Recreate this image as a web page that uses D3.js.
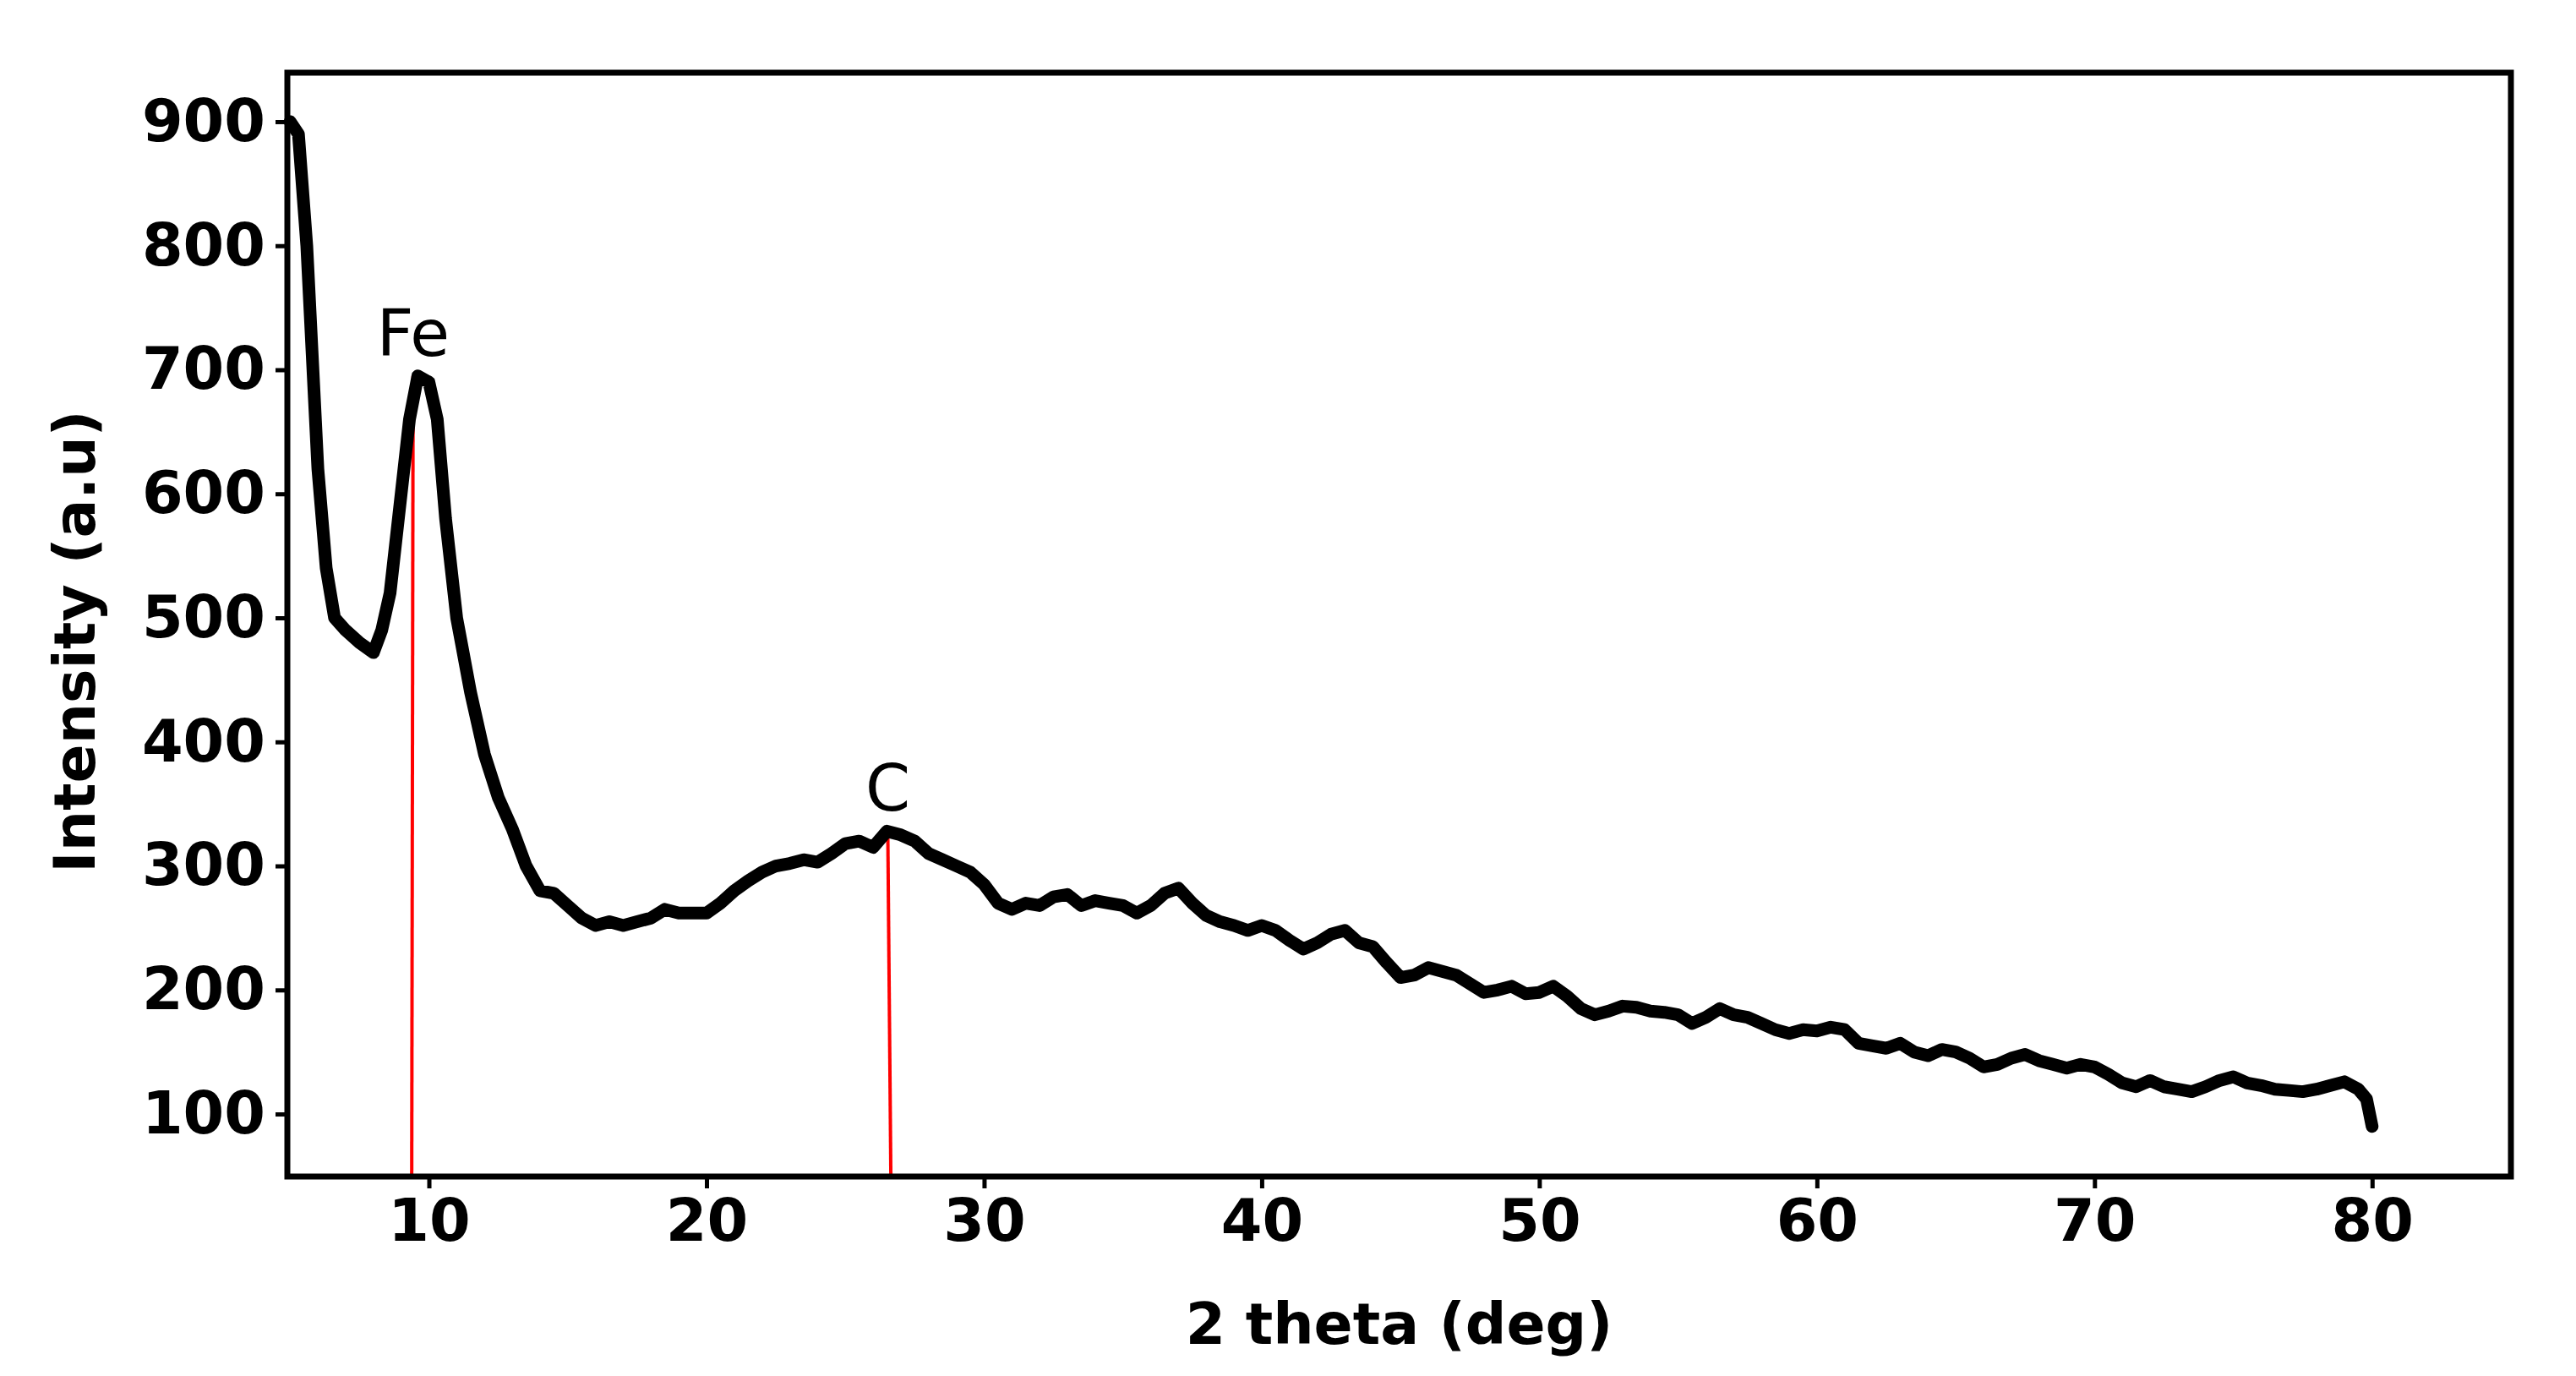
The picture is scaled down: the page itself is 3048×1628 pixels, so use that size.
<!DOCTYPE html>
<html><head><meta charset="utf-8">
<script src="https://cdn.jsdelivr.net/npm/d3@7"></script>
<style>body{margin:0;background:#fff}</style>
</head><body>
<svg id="c" width="3048" height="1628"></svg>
<script>
const theta = [5,5.3,5.6,6,6.3,6.6,7,7.5,8,8.3,8.6,9,9.3,9.6,10,10.3,10.6,11,11.5,12,12.5,13,13.5,14,14.5,15,15.5,16,16.5,17,17.5,18,18.5,19,19.5,20,20.5,21,21.5,22,22.5,23,23.5,24,24.5,25,25.5,26,26.5,27,27.5,28,28.5,29,29.5,30,30.5,31,31.5,32,32.5,33,33.5,34,34.5,35,35.5,36,36.5,37,37.5,38,38.5,39,39.5,40,40.5,41,41.5,42,42.5,43,43.5,44,44.5,45,45.5,46,46.5,47,47.5,48,48.5,49,49.5,50,50.5,51,51.5,52,52.5,53,53.5,54,54.5,55,55.5,56,56.5,57,57.5,58,58.5,59,59.5,60,60.5,61,61.5,62,62.5,63,63.5,64,64.5,65,65.5,66,66.5,67,67.5,68,68.5,69,69.5,70,70.5,71,71.5,72,72.5,73,73.5,74,74.5,75,75.5,76,76.5,77,77.5,78,78.5,79,79.5,79.8,80];
const intensity = [900,890,800,620,540,500,490,480,472,490,520,600,660,695,690,660,580,500,440,390,355,330,300,280,278,268,258,252,255,252,255,258,265,262,262,262,270,280,288,295,300,302,305,303,310,318,320,315,328,325,320,310,305,300,295,285,270,265,270,268,275,277,268,272,270,268,262,268,278,282,270,260,255,252,248,252,248,240,233,238,245,248,238,235,222,210,212,218,215,212,205,198,200,203,197,198,203,195,185,180,183,187,186,183,182,180,173,178,185,180,178,173,168,165,168,167,170,168,157,155,153,157,150,147,152,150,145,138,140,145,148,143,140,137,140,138,132,125,122,127,122,120,118,122,127,130,125,123,120,119,118,120,123,126,120,112,90];
const xTicks = [10,20,30,40,50,60,70,80];
const yTicks = [100,200,300,400,500,600,700,800,900];
const peaks = [{label:"Fe", x0:9.43, x1:9.38, y:695},{label:"C", x0:26.53, x1:26.64, y:328}];

const L=340,R=2971,T=86,B=1392;
const svg=d3.select("#c");
const x=d3.scaleLinear().domain([4.9,85]).range([L,R]);
const y=d3.scaleLinear().domain([49.6,939.5]).range([B,T]);
const font="DejaVu Sans";

peaks.forEach(p=>{
  svg.append("line").attr("x1",x(p.x0)).attr("y1",y(p.y)).attr("x2",x(p.x1)).attr("y2",B)
    .attr("stroke","#ff0000").attr("stroke-width",4);
});
const data=theta.map((t,i)=>[t,intensity[i]]);
svg.append("path").datum(data).attr("fill","none").attr("stroke","#000").attr("stroke-width",15)
  .attr("stroke-linejoin","round").attr("stroke-linecap","round")
  .attr("d",d3.line().x(d=>x(d[0])).y(d=>y(d[1])));
peaks.forEach(p=>{
  svg.append("text").attr("x",x(p.x0)).attr("y",y(p.y)-24).attr("text-anchor","middle")
    .attr("font-family",font).attr("font-size",76).text(p.label);
});
svg.append("rect").attr("x",L).attr("y",T).attr("width",R-L).attr("height",B-T)
  .attr("fill","none").attr("stroke","#000").attr("stroke-width",7);
const xa=svg.append("g").attr("transform",`translate(0,${B})`)
  .call(d3.axisBottom(x).tickValues(xTicks).tickSize(14).tickPadding(12).tickFormat(d3.format("d")));
const ya=svg.append("g").attr("transform",`translate(${L},0)`)
  .call(d3.axisLeft(y).tickValues(yTicks).tickSize(14).tickPadding(12).tickFormat(d3.format("d")));
[xa,ya].forEach(a=>{
  a.select(".domain").remove();
  a.selectAll(".tick line").attr("stroke","#000").attr("stroke-width",5);
  a.selectAll(".tick text").attr("font-family",font).attr("font-weight","bold").attr("font-size",70).attr("fill","#000");
});
svg.append("text").attr("x",(L+R)/2).attr("y",1590).attr("text-anchor","middle")
  .attr("font-family",font).attr("font-weight","bold").attr("font-size",68).text("2 theta (deg)");
svg.append("text").attr("transform",`translate(112,${(T+B)/2+20}) rotate(-90)`).attr("text-anchor","middle")
  .attr("font-family",font).attr("font-weight","bold").attr("font-size",68).text("Intensity (a.u)");
</script>
</body></html>
